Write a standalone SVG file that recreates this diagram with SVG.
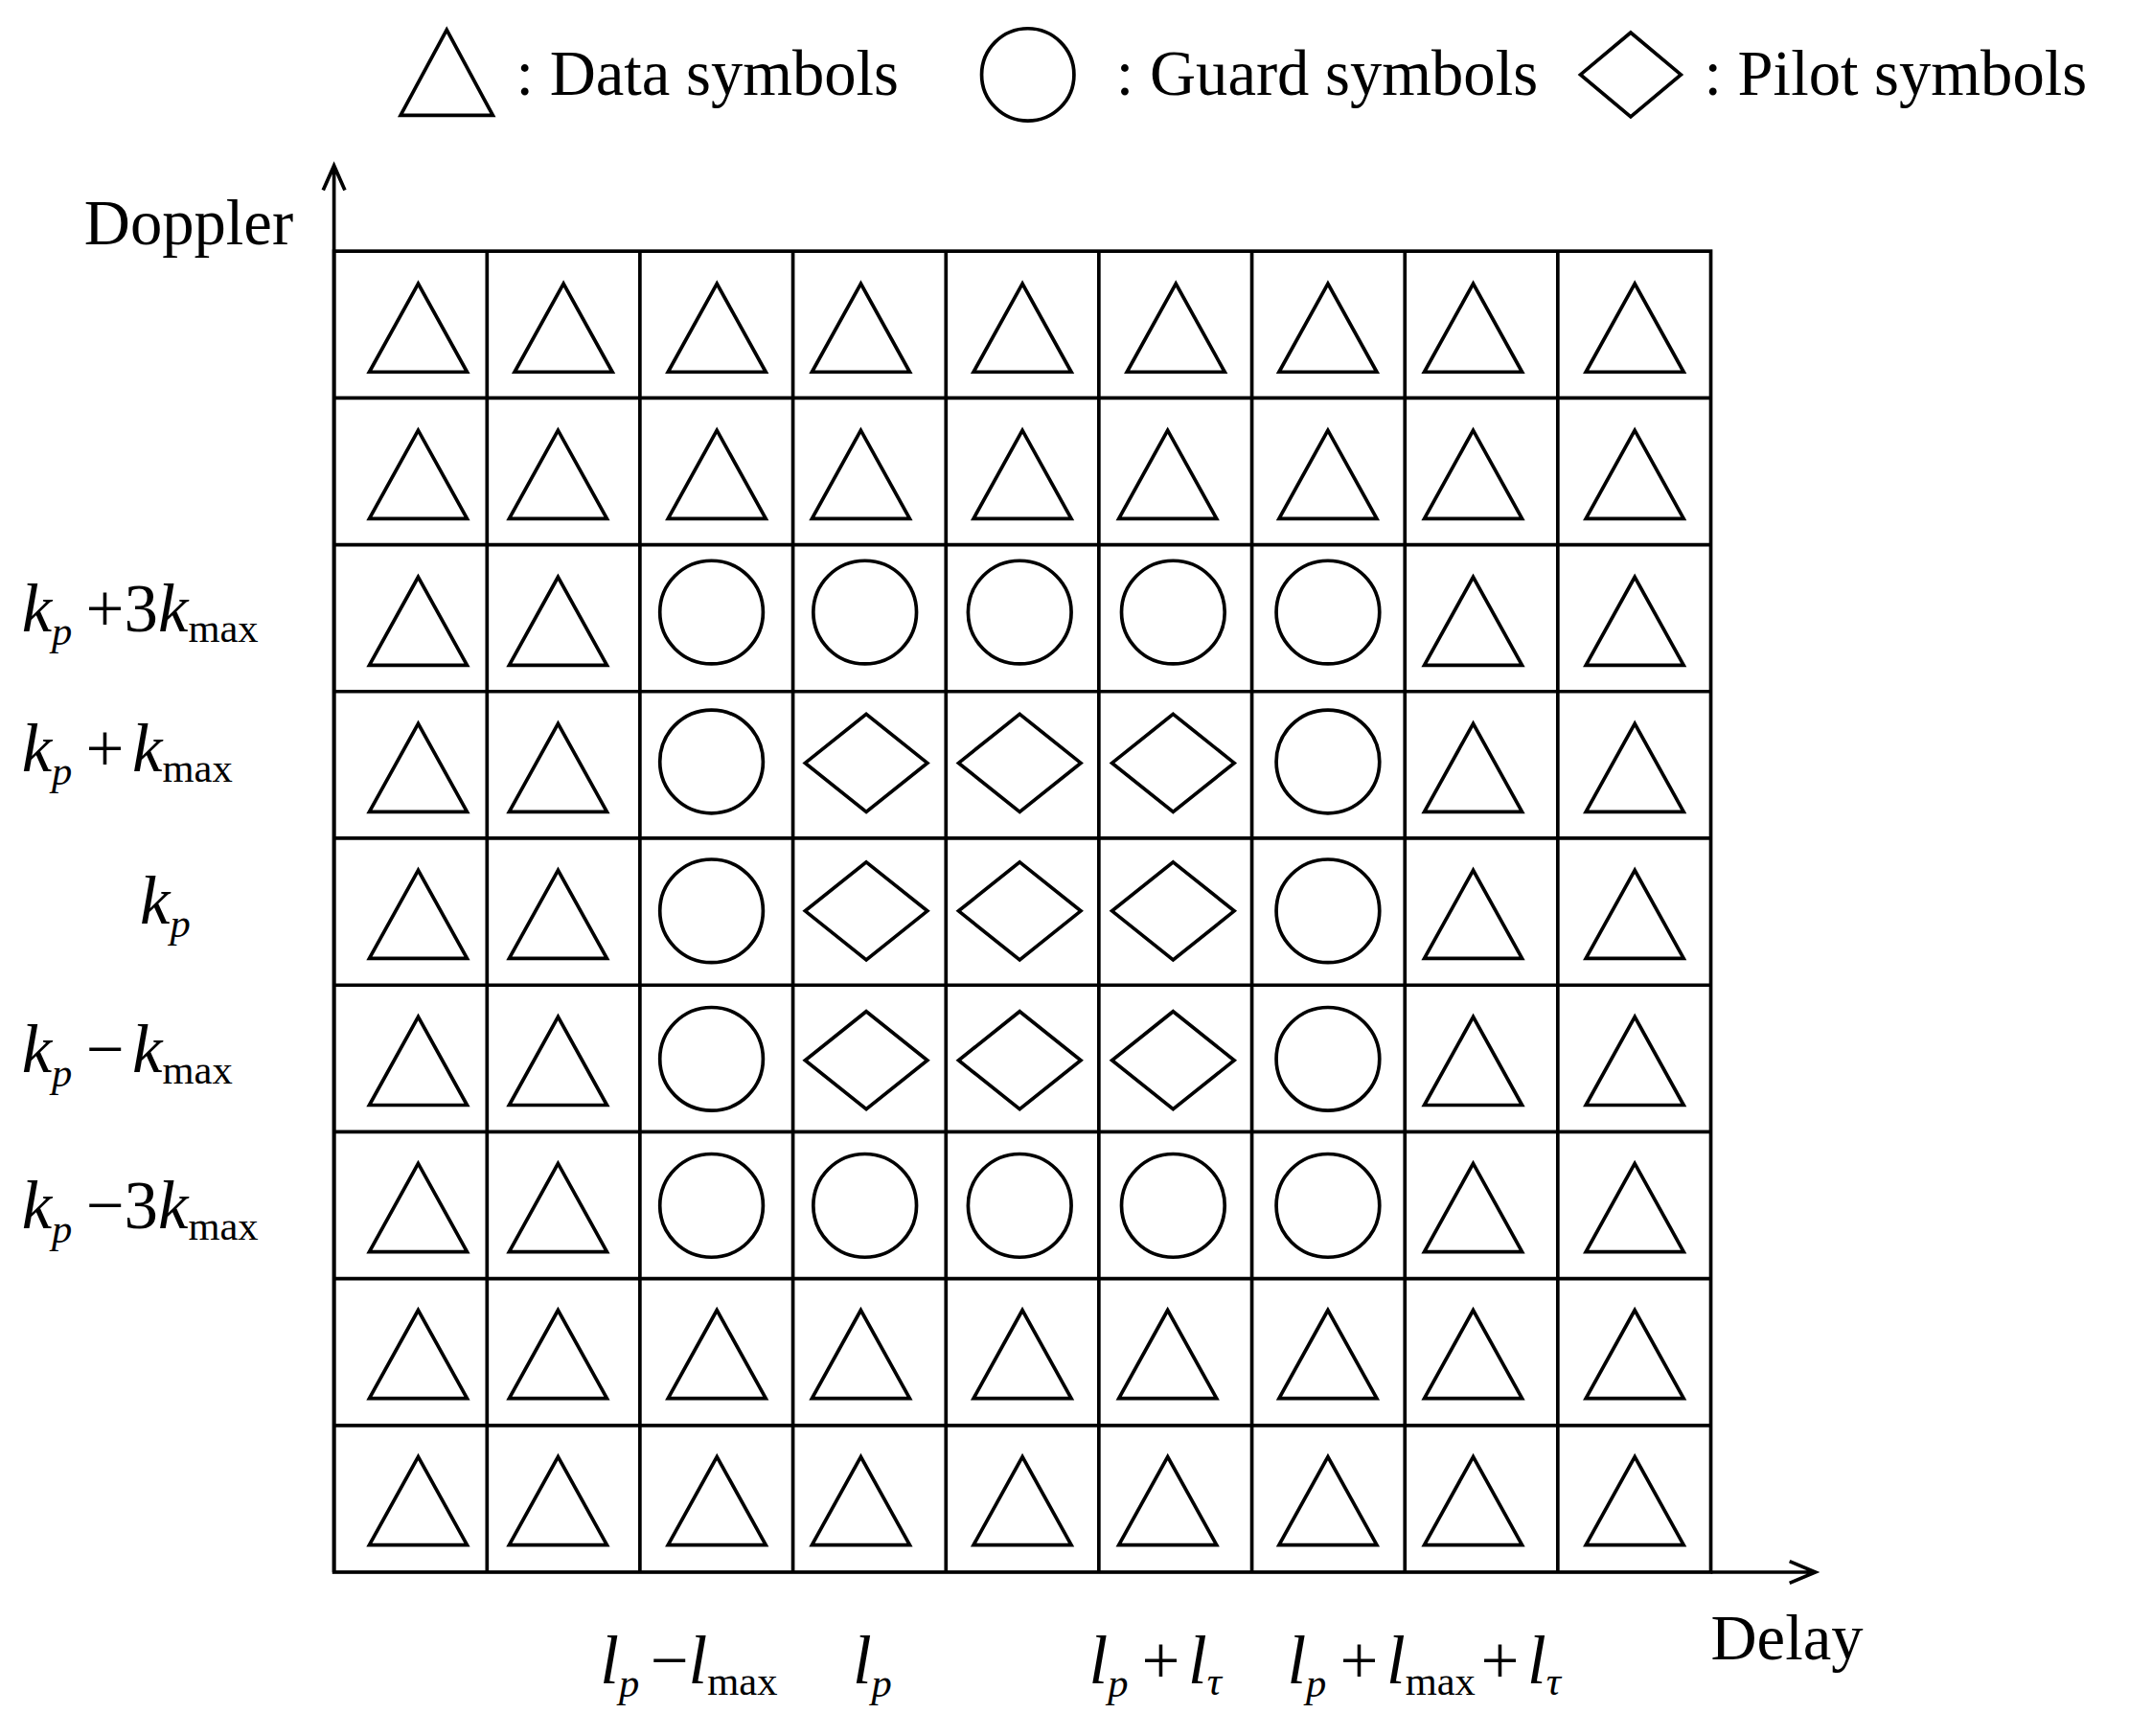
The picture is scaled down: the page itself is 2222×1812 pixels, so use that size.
<svg xmlns="http://www.w3.org/2000/svg" width="2222" height="1812" viewBox="0 0 2222 1812">
<defs>
<style>
.s{fill:none;stroke:#000;stroke-width:2.6}
.t{font-family:"Liberation Serif",serif;font-size:47px;fill:#000}
.m{font-family:"Liberation Serif",serif;font-size:50px;fill:#000}
.i{font-style:italic}
.sb{font-size:30px}
</style>
<polygon id="tri" class="s" points="0,-30 -36,35 36,35"/>
<circle id="cir" class="s" r="38"/>
<polygon id="dia" class="s" points="0,-36 45,0 0,36 -45,0"/>
</defs>
<rect width="2222" height="1812" fill="#fff"/>
<g transform="scale(1.41709)">
<g id="legend">
<polygon class="s" points="329,22 363,85 295,85"/>
<text class="t" x="380" y="70">: Data symbols</text>
<circle class="s" cx="757" cy="55" r="34"/>
<text class="t" x="822" y="70">: Guard symbols</text>
<polygon class="s" points="1201,24 1238,55 1201,86 1164,55"/>
<text class="t" x="1255" y="70">: Pilot symbols</text>
</g>
<g id="grid" class="s">
<rect x="246" y="185" width="1014" height="973"/>
<path d="M358.7 185V1158M471.3 185V1158M584 185V1158M696.7 185V1158M809.3 185V1158M922 185V1158M1034.7 185V1158M1147.3 185V1158
M246 293.1H1260M246 401.2H1260M246 509.3H1260M246 617.4H1260M246 725.6H1260M246 833.7H1260M246 941.8H1260M246 1049.9H1260"/>
</g>
<g id="connectors" class="s">
<path d="M246 1158V124M238 140L246 122L254 140"/>
<path d="M1260 1158H1336M1318 1150L1337 1158L1318 1166"/>
</g>
<g id="symbols">
<g id="r0"><use href="#tri" x="308" y="239"/><use href="#tri" x="415" y="239"/><use href="#tri" x="528" y="239"/><use href="#tri" x="634" y="239"/><use href="#tri" x="753" y="239"/><use href="#tri" x="866" y="239"/><use href="#tri" x="978" y="239"/><use href="#tri" x="1085" y="239"/><use href="#tri" x="1204" y="239"/></g>
<g id="r1"><use href="#tri" x="308" y="347"/><use href="#tri" x="411" y="347"/><use href="#tri" x="528" y="347"/><use href="#tri" x="634" y="347"/><use href="#tri" x="753" y="347"/><use href="#tri" x="860" y="347"/><use href="#tri" x="978" y="347"/><use href="#tri" x="1085" y="347"/><use href="#tri" x="1204" y="347"/></g>
<g id="r2"><use href="#tri" x="308" y="455"/><use href="#tri" x="411" y="455"/><use href="#cir" x="524" y="451"/><use href="#cir" x="637" y="451"/><use href="#cir" x="751" y="451"/><use href="#cir" x="864" y="451"/><use href="#cir" x="978" y="451"/><use href="#tri" x="1085" y="455"/><use href="#tri" x="1204" y="455"/></g>
<g id="r3"><use href="#tri" x="308" y="563"/><use href="#tri" x="411" y="563"/><use href="#cir" x="524" y="561"/><use href="#dia" x="638" y="562"/><use href="#dia" x="751" y="562"/><use href="#dia" x="864" y="562"/><use href="#cir" x="978" y="561"/><use href="#tri" x="1085" y="563"/><use href="#tri" x="1204" y="563"/></g>
<g id="r4"><use href="#tri" x="308" y="671"/><use href="#tri" x="411" y="671"/><use href="#cir" x="524" y="671"/><use href="#dia" x="638" y="671"/><use href="#dia" x="751" y="671"/><use href="#dia" x="864" y="671"/><use href="#cir" x="978" y="671"/><use href="#tri" x="1085" y="671"/><use href="#tri" x="1204" y="671"/></g>
<g id="r5"><use href="#tri" x="308" y="779"/><use href="#tri" x="411" y="779"/><use href="#cir" x="524" y="780"/><use href="#dia" x="638" y="781"/><use href="#dia" x="751" y="781"/><use href="#dia" x="864" y="781"/><use href="#cir" x="978" y="780"/><use href="#tri" x="1085" y="779"/><use href="#tri" x="1204" y="779"/></g>
<g id="r6"><use href="#tri" x="308" y="887"/><use href="#tri" x="411" y="887"/><use href="#cir" x="524" y="888"/><use href="#cir" x="637" y="888"/><use href="#cir" x="751" y="888"/><use href="#cir" x="864" y="888"/><use href="#cir" x="978" y="888"/><use href="#tri" x="1085" y="887"/><use href="#tri" x="1204" y="887"/></g>
<g id="r7"><use href="#tri" x="308" y="995"/><use href="#tri" x="411" y="995"/><use href="#tri" x="528" y="995"/><use href="#tri" x="634" y="995"/><use href="#tri" x="753" y="995"/><use href="#tri" x="860" y="995"/><use href="#tri" x="978" y="995"/><use href="#tri" x="1085" y="995"/><use href="#tri" x="1204" y="995"/></g>
<g id="r8"><use href="#tri" x="308" y="1103"/><use href="#tri" x="411" y="1103"/><use href="#tri" x="528" y="1103"/><use href="#tri" x="634" y="1103"/><use href="#tri" x="753" y="1103"/><use href="#tri" x="860" y="1103"/><use href="#tri" x="978" y="1103"/><use href="#tri" x="1085" y="1103"/><use href="#tri" x="1204" y="1103"/></g>
</g>
<g id="labels">
<text class="t" x="62" y="180">Doppler</text>
<text class="t" x="1260" y="1222">Delay</text>
<text class="m" x="16" y="465"><tspan class="i">k</tspan><tspan class="i sb" dy="10">p</tspan><tspan dy="-10" dx="10">+3</tspan><tspan class="i">k</tspan><tspan class="sb" dy="8">max</tspan></text>
<text class="m" x="16" y="568"><tspan class="i">k</tspan><tspan class="i sb" dy="10">p</tspan><tspan dy="-10" dx="10">+</tspan><tspan class="i" dx="6">k</tspan><tspan class="sb" dy="8">max</tspan></text>
<text class="m" x="103" y="680"><tspan class="i">k</tspan><tspan class="i sb" dy="10">p</tspan></text>
<text class="m" x="16" y="790"><tspan class="i">k</tspan><tspan class="i sb" dy="10">p</tspan><tspan dy="-10" dx="10">−</tspan><tspan class="i" dx="6">k</tspan><tspan class="sb" dy="8">max</tspan></text>
<text class="m" x="16" y="905"><tspan class="i">k</tspan><tspan class="i sb" dy="10">p</tspan><tspan dy="-10" dx="10">−3</tspan><tspan class="i">k</tspan><tspan class="sb" dy="8">max</tspan></text>
<text class="m" x="442" y="1240"><tspan class="i">l</tspan><tspan class="i sb" dy="10">p</tspan><tspan dy="-10" dx="8">−</tspan><tspan class="i">l</tspan><tspan class="sb" dy="8">max</tspan></text>
<text class="m" x="628" y="1240"><tspan class="i">l</tspan><tspan class="i sb" dy="10">p</tspan></text>
<text class="m" x="802" y="1240"><tspan class="i">l</tspan><tspan class="i sb" dy="10">p</tspan><tspan dy="-10" dx="10">+</tspan><tspan class="i" dx="6">l</tspan><tspan class="i sb" dy="8">τ</tspan></text>
<text class="m" x="948" y="1240"><tspan class="i">l</tspan><tspan class="i sb" dy="10">p</tspan><tspan dy="-10" dx="10">+</tspan><tspan class="i" dx="6">l</tspan><tspan class="sb" dy="8">max</tspan><tspan dy="-8" dx="4">+</tspan><tspan class="i" dx="6">l</tspan><tspan class="i sb" dy="8">τ</tspan></text>
</g>
</g>
</svg>
